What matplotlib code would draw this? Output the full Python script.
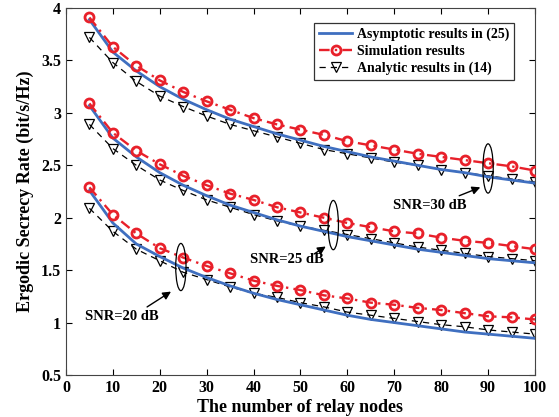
import matplotlib
matplotlib.use("Agg")
import matplotlib.pyplot as plt
from matplotlib.patches import Ellipse

relay_nodes = [5, 10, 15, 20, 25, 30, 35, 40, 45, 50, 55, 60, 65, 70, 75, 80, 85, 90, 95, 100]

asym_30 = [3.89, 3.58, 3.40, 3.25, 3.13, 3.03, 2.94, 2.87, 2.80, 2.74, 2.68, 2.63, 2.58, 2.54, 2.50, 2.46, 2.43, 2.39, 2.36, 2.33]
sim_30 = [3.91, 3.63, 3.45, 3.31, 3.20, 3.11, 3.03, 2.95, 2.89, 2.84, 2.79, 2.73, 2.69, 2.65, 2.61, 2.58, 2.55, 2.52, 2.49, 2.45]
ana_30 = [3.72, 3.48, 3.30, 3.16, 3.06, 2.97, 2.89, 2.83, 2.77, 2.71, 2.65, 2.61, 2.57, 2.53, 2.50, 2.46, 2.43, 2.40, 2.37, 2.34]

asym_25 = [3.07, 2.76, 2.58, 2.43, 2.31, 2.21, 2.12, 2.05, 1.98, 1.92, 1.87, 1.82, 1.78, 1.74, 1.70, 1.67, 1.64, 1.61, 1.59, 1.57]
sim_25 = [3.09, 2.81, 2.64, 2.51, 2.40, 2.31, 2.23, 2.17, 2.10, 2.05, 2.00, 1.95, 1.91, 1.87, 1.85, 1.81, 1.78, 1.76, 1.73, 1.70]
ana_25 = [2.89, 2.66, 2.50, 2.36, 2.26, 2.17, 2.10, 2.03, 1.97, 1.92, 1.88, 1.84, 1.80, 1.76, 1.72, 1.69, 1.66, 1.63, 1.61, 1.59]

asym_20 = [2.26, 1.95, 1.75, 1.63, 1.52, 1.43, 1.35, 1.28, 1.22, 1.17, 1.12, 1.07, 1.03, 1.00, 0.97, 0.94, 0.91, 0.89, 0.87, 0.85]
sim_20 = [2.29, 2.03, 1.85, 1.71, 1.62, 1.54, 1.47, 1.40, 1.35, 1.31, 1.26, 1.23, 1.19, 1.17, 1.14, 1.12, 1.09, 1.06, 1.05, 1.03]
ana_20 = [2.09, 1.87, 1.70, 1.59, 1.48, 1.41, 1.34, 1.28, 1.24, 1.19, 1.15, 1.10, 1.07, 1.04, 1.01, 0.98, 0.96, 0.93, 0.91, 0.89]

x_ticks = [0, 10, 20, 30, 40, 50, 60, 70, 80, 90, 100]
y_ticks = [0.5, 1, 1.5, 2, 2.5, 3, 3.5, 4]
y_tick_labels = ['0.5', '1', '1.5', '2', '2.5', '3', '3.5', '4']

plt.rcParams['font.family'] = ['Liberation Serif', 'DejaVu Serif']
plt.rcParams['font.weight'] = 'bold'

fig = plt.figure(figsize=(5.59, 4.17), dpi=100)
ax = fig.add_axes([0.118, 0.1007, 0.839, 0.880])

blue = '#3f6fc0'
red = '#e8202a'

for i, (a, s, n) in enumerate([(asym_30, sim_30, ana_30), (asym_25, sim_25, ana_25), (asym_20, sim_20, ana_20)]):
    ax.plot(relay_nodes, a, '-', color=blue, lw=2.0, zorder=3,
            label='Asymptotic results in (25)' if i == 0 else None)
    ax.plot(relay_nodes, s, color=red, lw=1.7, dashes=(4.5, 2.2, 1.0, 2.2), marker='o', ms=6.5,
            mfc='none', mew=2.0, zorder=4,
            label='Simulation results' if i == 0 else None)
    ax.plot(relay_nodes, n, color='black', lw=0.9, dashes=(5, 4), marker='v', ms=7, mfc='none',
            mew=0.9, zorder=2,
            label='Analytic results in (14)' if i == 0 else None)

# annotations: ellipses and arrows
ax.add_patch(Ellipse((90, 2.47), 2.2, 0.47, fill=False, ec='black', lw=0.9, zorder=5))
ax.add_patch(Ellipse((57, 1.93), 2.2, 0.47, fill=False, ec='black', lw=0.9, zorder=5))
ax.add_patch(Ellipse((24.5, 1.53), 2.2, 0.45, fill=False, ec='black', lw=0.9, zorder=5))

akw = dict(arrowstyle='-|>', color='black', lw=1.0, mutation_scale=12)
ax.annotate('', xy=(88.9, 2.30), xytext=(83.3, 2.20), arrowprops=akw)
ax.annotate('', xy=(55.9, 1.74), xytext=(52.4, 1.64), arrowprops=akw)
ax.annotate('', xy=(22.9, 1.31), xytext=(16.8, 1.135), arrowprops=akw)

ax.text(77.6, 2.12, 'SNR=30 dB', ha='center', va='center', fontsize=10.5, fontweight='bold')
ax.text(47.1, 1.605, 'SNR=25 dB', ha='center', va='center', fontsize=10.5, fontweight='bold')
ax.text(12.0, 1.06, 'SNR=20 dB', ha='center', va='center', fontsize=10.5, fontweight='bold')

ax.set_xlim(0, 100)
ax.set_ylim(0.5, 4)
ax.set_xticks(x_ticks)
ax.set_yticks(y_ticks)
ax.set_yticklabels(y_tick_labels)
ax.tick_params(direction='in', top=True, right=True, labelsize=11.5, length=4, width=0.8)
for lab in ax.get_xticklabels() + ax.get_yticklabels():
    lab.set_fontweight('bold')
for sp in ax.spines.values():
    sp.set_linewidth(0.8)
    sp.set_color('#444444')

ax.set_xlabel('The number of relay nodes', fontsize=13, fontweight='bold', labelpad=2)
ax.set_ylabel('Ergodic Secrecy Rate (bit/s/Hz)', fontsize=13, fontweight='bold', labelpad=5)

leg = ax.legend(loc='upper right', bbox_to_anchor=(0.955, 0.959), borderaxespad=0, fontsize=10,
                frameon=True, fancybox=False, edgecolor='black', borderpad=0.35, labelspacing=0.25,
                handlelength=2.4, handletextpad=0.3)
leg.get_frame().set_linewidth(0.9)
for t in leg.get_texts():
    t.set_fontweight('bold')

fig.savefig('out.png', dpi=100)
